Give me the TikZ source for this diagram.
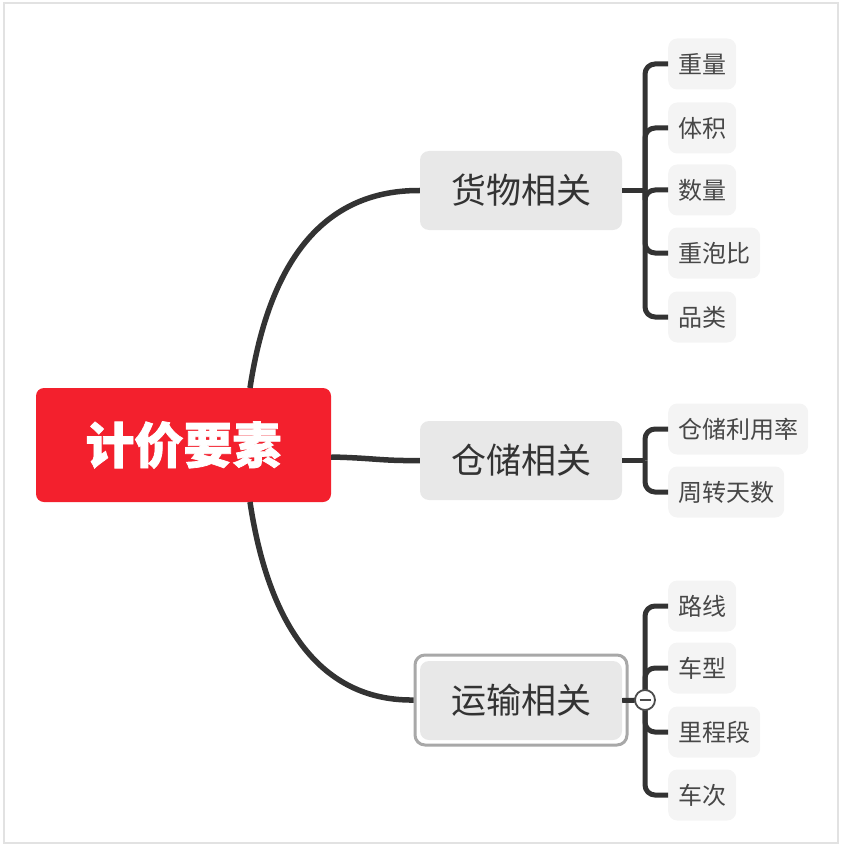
\documentclass[tikz,border=0pt]{standalone}
\usepackage{fontspec}
\newfontfamily\cjk{Noto Sans CJK SC}
\newfontfamily\cjkroot[BoldFeatures={FakeBold=1.5}]{Noto Sans CJK SC}
\definecolor{rootred}{RGB}{243,32,45}
\definecolor{linec}{HTML}{333333}
\definecolor{branchfill}{HTML}{E8E8E8}
\definecolor{leaffill}{HTML}{F4F4F4}
\definecolor{framec}{HTML}{E2E2E2}
\definecolor{selc}{HTML}{A8A8A8}
\tikzset{
  rootbox/.style={fill=rootred, text=white, rounded corners=8pt, minimum width=295pt, minimum height=114pt, inner sep=0pt, font=\cjkroot\bfseries\fontsize{49}{49}\selectfont},
  branchbox/.style={fill=branchfill, text=linec, rounded corners=9pt, minimum width=202pt, minimum height=79pt, inner sep=0pt, font=\cjk\fontsize{35}{35}\selectfont},
  leafbox/.style={fill=leaffill, text=black!72, rounded corners=9pt, minimum height=51pt, inner xsep=10pt, inner ysep=0pt, anchor=west, font=\cjk\fontsize{24}{24}\selectfont},
  mainline/.style={draw=linec, line width=5.5pt},
  brline/.style={draw=linec, line width=5pt, rounded corners=10pt},
}
\begin{document}
\begin{tikzpicture}[x=1pt,y=-1pt]
\useasboundingbox (0,0) rectangle (843,850);
\draw[framec, line width=2pt] (4,3) rectangle (838,843);

% root and branches
\node[rootbox] (root) at (183.5,445) {计价要素};
\node[branchbox] (b1) at (521,190.5) {货物相关};
\node[branchbox] (b2) at (521,460.5) {仓储相关};
\node[branchbox] (b3) at (521,700.5) {运输相关};
\node[draw=selc, line width=3pt, rounded corners=10pt, minimum width=212pt, minimum height=90pt] (b3sel) at (521,700) {};

% main connectors
\coordinate (r1) at (250,388);
\coordinate (r3) at (250,502);
\draw[mainline] (r1) .. controls (270,256) and (327,190) .. (b1.west);
\draw[mainline] (root.east |- 0,457) .. controls (375,458) and (380,461) .. (b2.west);
\draw[mainline] (r3) .. controls (270,635) and (327,701) .. (b3sel.west);

% leaves branch 1
\node[leafbox] (l11) at (668,64) {重量};
\node[leafbox] (l12) at (668,128) {体积};
\node[leafbox] (l13) at (668,190) {数量};
\node[leafbox] (l14) at (668,253) {重泡比};
\node[leafbox] (l15) at (668,317) {品类};
\coordinate (j1) at (645,190.5);
\draw[brline] (b1.east) -- (j1);
\foreach \n in {l11,l12,l13,l14,l15} \draw[brline] (j1) |- (\n.west);

% leaves branch 2
\node[leafbox] (l21) at (668,429) {仓储利用率};
\node[leafbox] (l22) at (668,492) {周转天数};
\coordinate (j2) at (645,460.5);
\draw[brline] (b2.east) -- (j2);
\foreach \n in {l21,l22} \draw[brline] (j2) |- (\n.west);

% leaves branch 3
\node[leafbox] (l31) at (668,606) {路线};
\node[leafbox] (l32) at (668,668) {车型};
\node[leafbox] (l33) at (668,732) {里程段};
\node[leafbox] (l34) at (668,795) {车次};
\coordinate (j3) at (645,700);
\draw[brline] (b3.east) -- (j3);
\foreach \n in {l31,l32,l33,l34} \draw[brline] (j3) |- (\n.west);
\node[circle, draw=black!70, fill=white, line width=1.8pt, minimum size=20pt, inner sep=0pt] (col) at (j3) {};
\draw[black!70, line width=1.8pt] ([xshift=-5.5pt]col.center) -- ([xshift=5.5pt]col.center);
\end{tikzpicture}
\end{document}
